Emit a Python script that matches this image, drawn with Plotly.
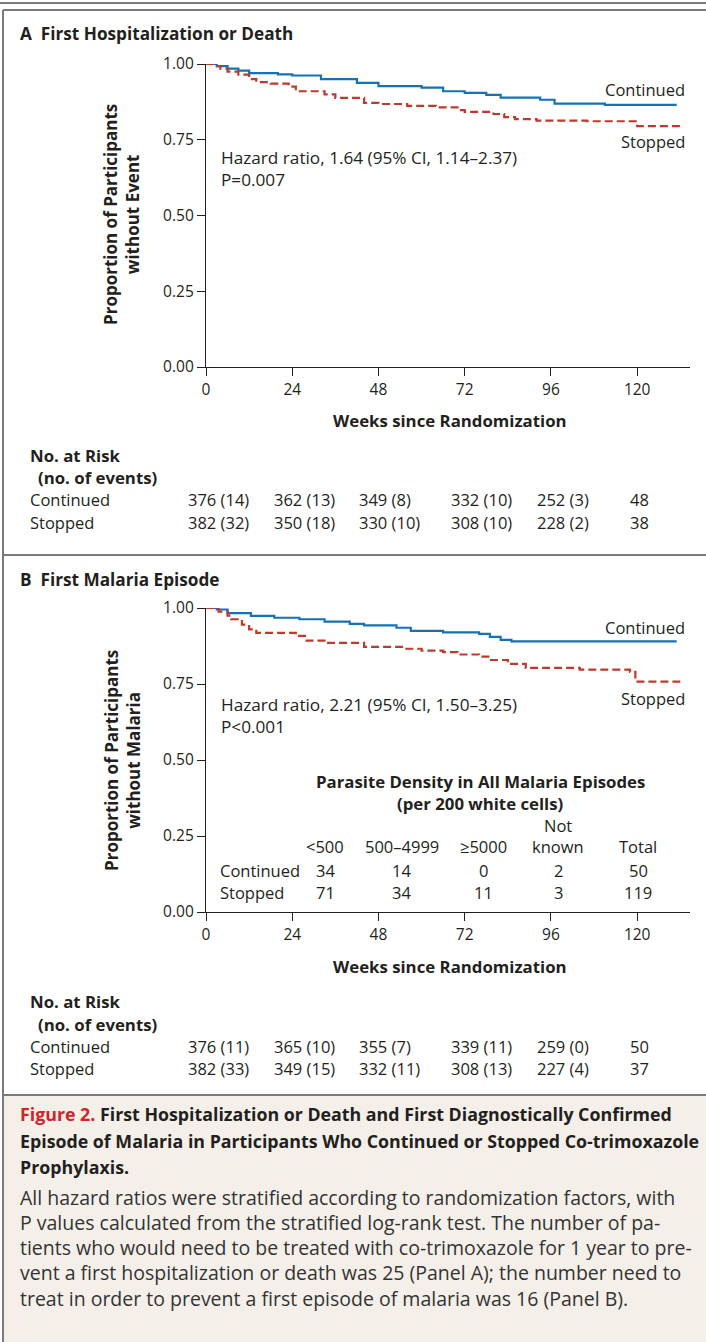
import plotly.graph_objects as go

# ---------------- data ----------------
weeks_ticks = [0, 24, 48, 72, 96, 120]
y_ticks = [0.0, 0.25, 0.5, 0.75, 1.0]
y_tick_labels = ["0.00", "0.25", "0.50", "0.75", "1.00"]

# Panel A: first hospitalization or death (Kaplan-Meier steps)
a_cont_weeks = [0, 3, 6, 9, 12, 20, 24, 32, 42, 48, 60, 66, 72, 78, 82, 93, 97, 111, 131]
a_cont_surv = [1.0, 0.993, 0.985, 0.978, 0.970, 0.966, 0.962, 0.950, 0.938, 0.927, 0.922, 0.910,
               0.905, 0.898, 0.889, 0.882, 0.869, 0.865, 0.865]
a_stop_weeks = [0, 2, 4, 6, 9, 12, 14, 18, 23, 25, 33, 36, 44, 48, 56, 64, 70, 72, 80, 83, 86, 92,
                106, 120, 132]
a_stop_surv = [1.0, 0.993, 0.985, 0.975, 0.965, 0.950, 0.940, 0.935, 0.925, 0.910, 0.900, 0.888,
               0.872, 0.868, 0.862, 0.857, 0.848, 0.842, 0.835, 0.825, 0.818, 0.813, 0.811, 0.795,
               0.795]

# Panel B: first malaria episode
b_cont_weeks = [0, 3, 6, 12.5, 19, 26, 33, 40, 44, 53, 57, 66, 76, 79, 82, 85, 131]
b_cont_surv = [1.0, 0.995, 0.983, 0.974, 0.968, 0.963, 0.955, 0.948, 0.943, 0.935, 0.925, 0.920,
               0.915, 0.905, 0.895, 0.890, 0.890]
b_stop_weeks = [0, 3.5, 6, 7, 10, 12, 14, 25, 28, 33, 44, 55, 60, 66, 70, 76, 79, 84, 89, 104, 118,
                119.5, 132]
b_stop_surv = [1.0, 0.988, 0.975, 0.963, 0.945, 0.930, 0.918, 0.908, 0.893, 0.885, 0.872, 0.866,
               0.860, 0.855, 0.847, 0.840, 0.829, 0.816, 0.803, 0.797, 0.790, 0.758, 0.758]

# Numbers at risk (no. of events)
a_risk_cont = ["376 (14)", "362 (13)", "349 (8)", "332 (10)", "252 (3)", "48"]
a_risk_stop = ["382 (32)", "350 (18)", "330 (10)", "308 (10)", "228 (2)", "38"]
b_risk_cont = ["376 (11)", "365 (10)", "355 (7)", "339 (11)", "259 (0)", "50"]
b_risk_stop = ["382 (33)", "349 (15)", "332 (11)", "308 (13)", "227 (4)", "37"]

# Parasite density table
dens_headers = ["<500", "500\u20134999", "\u22655000", "Not<br>known", "Total"]
dens_cont = ["34", "14", "0", "2", "50"]
dens_stop = ["71", "34", "11", "3", "119"]

caption_title = [
    "<span style='color:#d2232a'>Figure 2.</span> First Hospitalization or Death and First Diagnostically Confirmed",
    "Episode of Malaria in Participants Who Continued or Stopped Co-trimoxazole",
    "Prophylaxis.",
]
caption_body = [
    "All hazard ratios were stratified according to randomization factors, with",
    "P values calculated from the stratified log-rank test. The number of pa-",
    "tients who would need to be treated with co-trimoxazole for 1 year to pre-",
    "vent a first hospitalization or death was 25 (Panel A); the number need to",
    "treat in order to prevent a first episode of malaria was 16 (Panel B).",
]

# ---------------- layout helpers ----------------
W, H = 706, 1342
FONT = "'Open Sans', 'Noto Sans', sans-serif"
TXT = "#231f20"
BLUE = "#1572b6"
RED = "#c0392b"
REG = 16.5
BOLD = 16.8


def px(x):
    return x / W


def py(y):
    return 1 - y / H


annotations = []


def ann(text, x, y, size=REG, bold=False, xanchor="left", color=TXT, angle=0, align="left"):
    if bold:
        text = "<b>" + text + "</b>"
    if xanchor == "left":
        x -= 2
    elif xanchor == "right":
        x += 2
    annotations.append(dict(
        text=text, x=px(x), y=py(y), xref="paper", yref="paper",
        xanchor=xanchor, yanchor="middle", showarrow=False, textangle=angle, align=align,
        font=dict(family=FONT, size=size, color=color),
    ))


fig = go.Figure()
for xs, ys, col, dash, ax in [
    (a_cont_weeks, a_cont_surv, BLUE, "solid", ("x", "y")),
    (a_stop_weeks, a_stop_surv, RED, "8px,4px", ("x", "y")),
    (b_cont_weeks, b_cont_surv, BLUE, "solid", ("x2", "y2")),
    (b_stop_weeks, b_stop_surv, RED, "8px,4px", ("x2", "y2")),
]:
    fig.add_trace(go.Scatter(x=xs, y=ys, mode="lines", line_shape="hv",
                             line=dict(color=col, width=2.2, dash=dash),
                             xaxis=ax[0], yaxis=ax[1], showlegend=False))

XMAX = 134.7
axis_common = dict(showgrid=False, zeroline=False, showline=True, linecolor=TXT, linewidth=1.3,
                   ticks="outside", ticklen=8, tickwidth=1.3, tickcolor=TXT, automargin=False,
                   tickfont=dict(family=FONT, size=15.5, color=TXT), fixedrange=True)

fig.update_layout(
    width=W, height=H, margin=dict(l=0, r=0, t=0, b=0, pad=0, autoexpand=False),
    paper_bgcolor="white", plot_bgcolor="white",
    xaxis=dict(domain=[px(206), px(690)], range=[0, XMAX], tickvals=weeks_ticks, anchor="y",
               **axis_common),
    yaxis=dict(domain=[py(367), py(64)], range=[0, 1], tickvals=y_ticks, ticktext=y_tick_labels,
               anchor="x", **axis_common),
    xaxis2=dict(domain=[px(206), px(690)], range=[0, XMAX], tickvals=weeks_ticks, anchor="y2",
                **axis_common),
    yaxis2=dict(domain=[py(912), py(608)], range=[0, 1], tickvals=y_ticks, ticktext=y_tick_labels,
                anchor="x2", **axis_common),
)

# ---------------- frames / backgrounds ----------------
shapes = []
GRAY = "#7a7a7a"
shapes.append(dict(type="rect", xref="paper", yref="paper", x0=px(4), x1=1.0, y0=0, y1=py(1096),
                   fillcolor="#f4f0e9", line=dict(width=0), layer="below"))
for (x0, y0, x1, y1) in [(0, 3, W, 3), (3, 10, W, 10), (3, 10, 3, H), (3, 555, W, 555),
                         (3, 1095, W, 1095)]:
    shapes.append(dict(type="line", xref="paper", yref="paper", x0=px(x0), x1=px(x1),
                       y0=py(y0), y1=py(y1), line=dict(color=GRAY, width=2)))
fig.update_layout(shapes=shapes)

# ---------------- texts ----------------
risk_x = [188, 274, 359, 451, 537, 630]


def panel_texts(off, title, ylabel, hr, pval, cont_y, stop_y, risk_c, risk_s):
    ann(title, 20, 33 + off, size=17.2, bold=True)
    ann("Proportion of Participants<br>without " + ylabel, 122, 215 + off, size=17, bold=True,
        xanchor="center", angle=-90, align="center")
    ann("Weeks since Randomization", 450, 420 + off, size=BOLD, bold=True, xanchor="center")
    ann(hr, 221, 158 + off, size=17.2)
    ann(pval, 221, 180 + off, size=17.2)
    ann("Continued", 685, cont_y, xanchor="right")
    ann("Stopped", 685, stop_y, xanchor="right")
    ann("No. at Risk", 30, 455 + off, size=BOLD, bold=True)
    ann("(no. of events)", 38, 478 + off, size=BOLD, bold=True)
    ann("Continued", 30, 500 + off)
    ann("Stopped", 30, 522 + off)
    for xv, c, s in zip(risk_x, risk_c, risk_s):
        ann(c, xv, 500 + off)
        ann(s, xv, 522 + off)


panel_texts(0, "A  First Hospitalization or Death", "Event",
            "Hazard ratio, 1.64 (95% CI, 1.14\u20132.37)", "P=0.007", 89, 142,
            a_risk_cont, a_risk_stop)
panel_texts(546, "B  First Malaria Episode", "Malaria",
            "Hazard ratio, 2.21 (95% CI, 1.50\u20133.25)", "P<0.001", 627, 698,
            b_risk_cont, b_risk_stop)

# parasite density table
ann("Parasite Density in All Malaria Episodes", 480, 781, size=BOLD, bold=True, xanchor="center")
ann("(per 200 white cells)", 480, 803, size=BOLD, bold=True, xanchor="center")
dens_x = [325, 402, 483, 558, 638]
for xv, hdr in zip(dens_x, dens_headers):
    if "<br>" in hdr:
        top, bot = hdr.split("<br>")
        ann(top, xv, 825, xanchor="center")
        ann(bot, xv, 846, xanchor="center")
    else:
        ann(hdr, xv, 846, xanchor="center")
ann("Continued", 220, 870)
ann("Stopped", 220, 892)
for xv, c, s in zip(dens_x, dens_cont, dens_stop):
    ann(c, xv, 870, xanchor="center")
    ann(s, xv, 892, xanchor="center")

# caption
for i, line in enumerate(caption_title):
    ann(line, 20, 1114 + i * 26.5, size=17.8, bold=True, color="#231f20")
for i, line in enumerate(caption_body):
    ann(line, 20, 1197 + i * 25.3, size=19.5, color="#333333")

fig.update_layout(annotations=annotations)
fig.write_html("out.html", config={"displayModeBar": False},
               post_script="document.body.style.margin='0';")
